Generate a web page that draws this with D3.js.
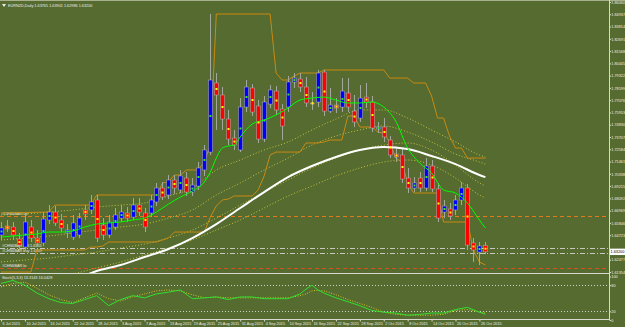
<!DOCTYPE html>
<html>
<head>
<meta charset="utf-8">
<script src="https://cdn.jsdelivr.net/npm/d3@7"></script>
<style>
  body { margin: 0; background: #556b2f; }
  svg { display: block; font-family: "Liberation Sans", Arial, sans-serif; }
</style>
</head>
<body>
<svg id="svgRoot" width="625" height="327"></svg>
<script>
// EURNZD daily, bar 0 = 6 Jul 2015, one bar per trading day
const opens = [
  1.6474,1.6556,1.6547,1.6437,1.6364,1.6547,1.6446,1.6401,1.6611,1.6684,
  1.6611,1.6492,1.6455,1.6474,1.6703,1.6703,1.6794,1.6565,1.6474,1.6547,
  1.6629,1.6675,1.6638,1.6748,1.6675,1.6675,1.6776,1.6904,1.6840,1.6977,
  1.6886,1.6995,1.6867,1.6922,1.7069,1.7233,1.7865,1.7755,1.7535,1.7361,
  1.7252,1.7645,1.7819,1.7654,1.7352,1.7672,1.7791,1.7627,1.7645,1.7874,
  1.7901,1.7828,1.7682,1.7691,1.7965,1.7608,1.7663,1.7645,1.7773,1.7608,
  1.7544,1.7736,1.7691,1.7444,1.7462,1.7343,1.7215,1.7206,1.6995,1.6904,
  1.6995,1.6904,1.7105,1.6895,1.6684,1.6712,1.6703,1.6794,1.6904,1.6401,
  1.6318,1.6377]
const highs = [
  1.6593,1.6611,1.6593,1.6492,1.6657,1.6611,1.6520,1.6684,1.6748,1.6739,
  1.6666,1.6574,1.6657,1.6675,1.6748,1.6840,1.6840,1.6629,1.6657,1.6721,
  1.6748,1.6730,1.6812,1.6812,1.6721,1.6840,1.6950,1.6959,1.7023,1.7023,
  1.7069,1.7050,1.6995,1.7142,1.7297,1.8496,1.7956,1.7828,1.7618,1.7435,
  1.7727,1.7892,1.7855,1.7709,1.7746,1.7846,1.7837,1.7672,1.7929,1.7956,
  1.7956,1.7919,1.7782,1.7984,1.7984,1.7819,1.7727,1.7910,1.7910,1.7755,
  1.7846,1.7865,1.7746,1.7508,1.7544,1.7380,1.7270,1.7270,1.7087,1.7004,
  1.7050,1.7178,1.7160,1.6950,1.6794,1.6767,1.6840,1.6959,1.6940,1.6446,
  1.6410,1.6410]
const lows = [
  1.6428,1.6501,1.6428,1.6337,1.6337,1.6410,1.6364,1.6373,1.6574,1.6556,
  1.6501,1.6446,1.6428,1.6446,1.6611,1.6666,1.6410,1.6428,1.6446,1.6520,
  1.6593,1.6593,1.6611,1.6648,1.6501,1.6638,1.6739,1.6794,1.6803,1.6849,
  1.6858,1.6831,1.6831,1.6886,1.7014,1.7206,1.7435,1.7435,1.7297,1.7252,
  1.7233,1.7599,1.7563,1.7316,1.7325,1.7636,1.7572,1.7343,1.7599,1.7819,
  1.7782,1.7645,1.7618,1.7645,1.7563,1.7590,1.7590,1.7599,1.7599,1.7462,
  1.7508,1.7636,1.7416,1.7407,1.7325,1.7178,1.7142,1.6950,1.6858,1.6867,
  1.6867,1.6876,1.6867,1.6593,1.6629,1.6611,1.6657,1.6748,1.6337,1.6227,
  1.6199,1.6299]
const closes = [
  1.6538,1.6529,1.6474,1.6382,1.6593,1.6446,1.6401,1.6620,1.6684,1.6584,
  1.6538,1.6520,1.6584,1.6629,1.6666,1.6776,1.6446,1.6474,1.6593,1.6657,
  1.6684,1.6629,1.6748,1.6684,1.6547,1.6794,1.6904,1.6821,1.6977,1.6904,
  1.7014,1.6867,1.6931,1.7087,1.7252,1.7892,1.7755,1.7535,1.7352,1.7297,
  1.7645,1.7828,1.7599,1.7352,1.7691,1.7801,1.7618,1.7471,1.7874,1.7910,
  1.7828,1.7682,1.7677,1.7956,1.7608,1.7663,1.7636,1.7791,1.7645,1.7508,
  1.7727,1.7691,1.7453,1.7462,1.7371,1.7206,1.7188,1.6986,1.6904,1.6950,
  1.6904,1.7105,1.6895,1.6629,1.6739,1.6648,1.6794,1.6904,1.6382,1.6337,
  1.6373,1.6320]

const dateTicks = [0,4,8,12,16,20,24,28,32,36,40,44,48,52,56,60,64,68,72,76,80]
const dateLabels = ["6 Jul 2015","10 Jul 2015","16 Jul 2015","22 Jul 2015","28 Jul 2015",
  "3 Aug 2015","7 Aug 2015","13 Aug 2015","19 Aug 2015","25 Aug 2015","31 Aug 2015",
  "4 Sep 2015","10 Sep 2015","16 Sep 2015","22 Sep 2015","28 Sep 2015","2 Oct 2015",
  "8 Oct 2015","14 Oct 2015","20 Oct 2015","26 Oct 2015"]
const priceTicks = [1.86060,1.84937,1.83814,1.82691,1.81568,1.80445,1.79322,1.78199,
  1.77076,1.75953,1.74830,1.73707,1.72584,1.71461,1.70338,1.69215,1.68092,1.66969,
  1.65846,1.64723,1.63600,1.62477,1.61354]
const lastPrice = 1.63200
const stochTicks = [100, 80, 20, 0]

// fast moving average (green)
const fastIdx = [0,2,4,6,8,10,12,14,16,18,20,22,24,26,28,30,32,34,35,36,37,38,39,
  40,42,44,46,48,50,52,54,56,58,60,62,64,66,68,70,72,74,76,78,80,81]
const fastMA = [1.6455,1.6465,1.6474,1.6483,1.6501,1.6501,1.6510,1.6547,1.6574,1.6584,
  1.6593,1.6611,1.6629,1.6684,1.6757,1.6821,1.6876,1.6959,1.7050,1.7178,1.7270,1.7288,
  1.7297,1.7371,1.7489,1.7526,1.7572,1.7636,1.7709,1.7727,1.7736,1.7709,1.7682,1.7682,
  1.7691,1.7645,1.7517,1.7270,1.7133,1.7041,1.6886,1.6858,1.6767,1.6611,1.6538]

// slow average (white) and dotted bands, read every 4 bars
const slowIdx = [0,4,8,12,16,20,24,28,32,36,40,44,48,52,56,60,64,68,72,76,80,81]
const slowMA = [1.5952,1.5989,1.6025,1.6062,1.6144,1.6199,1.6272,1.6346,1.6446,1.6574,
  1.6721,1.6867,1.7004,1.7105,1.7188,1.7252,1.7279,1.7261,1.7197,1.7123,1.7023,1.7004]
const band1 = [1.6657,1.6666,1.6684,1.6703,1.6730,1.6748,1.6767,1.6831,1.6904,1.7069,
  1.7160,1.7252,1.7325,1.7435,1.7535,1.7618,1.7618,1.7544,1.7435,1.7325,1.7206,1.7188]
const band2 = [1.6428,1.6446,1.6465,1.6492,1.6520,1.6547,1.6574,1.6629,1.6703,1.6840,
  1.6950,1.7069,1.7178,1.7297,1.7380,1.7435,1.7471,1.7416,1.7325,1.7215,1.7142,1.7123]
const band3 = [1.6227,1.6245,1.6263,1.6291,1.6318,1.6355,1.6391,1.6446,1.6520,1.6629,
  1.6748,1.6867,1.6977,1.7087,1.7178,1.7252,1.7297,1.7316,1.7252,1.7114,1.6950,1.6922]
const band4 = [1.6016,1.6035,1.6071,1.6117,1.6172,1.6227,1.6291,1.6355,1.6428,1.6520,
  1.6611,1.6721,1.6831,1.6922,1.7014,1.7087,1.7142,1.7160,1.7114,1.6995,1.6840,1.6812]

// price channel (orange)
const chanUpIdx = [0,8,9,15,16,26,27,28,29,30,31,33,34,35,36,45,46,47,48,49,
  50,53,54,64,65,68,69,71,72,73,74,75,76,77,78,81]
const chanUp = [1.6675,1.6684,1.6748,1.6748,1.6840,1.6840,1.6950,1.6959,1.7023,1.7023,
  1.7069,1.7069,1.7142,1.7297,1.8496,1.8496,1.7956,1.7892,1.7892,1.7929,1.7956,1.7956,
  1.7984,1.7984,1.7910,1.7910,1.7865,1.7865,1.7746,1.7544,1.7544,1.7380,1.7270,1.7270,
  1.7178,1.7178]
const chanLoIdx = [0,5,6,14,15,16,17,18,26,27,28,29,34,35,36,37,38,39,42,43,
  44,45,46,50,51,53,54,55,57,58,59,60,62,63,64,65,66,67,68,69,73,74,78,79,80,81]
const chanLo = [1.6135,1.6135,1.6337,1.6337,1.6364,1.6364,1.6373,1.6410,1.6410,1.6428,
  1.6446,1.6501,1.6501,1.6638,1.6739,1.6794,1.6803,1.6831,1.6831,1.6886,1.7014,1.7206,
  1.7233,1.7233,1.7316,1.7316,1.7325,1.7343,1.7343,1.7563,1.7563,1.7462,1.7462,1.7416,
  1.7407,1.7325,1.7178,1.7142,1.6950,1.6858,1.6858,1.6593,1.6593,1.6337,1.6227,1.6199]

// horizontal objects
const levels = [1.6648, 1.6355, 1.6309, 1.6172]
const levelNames = ["#CHN6BAR up", "#CHN6BAR sell 1.6355", "#CHN6BAR buy 1.6309", "#CHN6BAR lo"]

// stochastic window
const stochIdx = [0,2,4,6,8,10,12,14,16,18,20,22,24,26,28,30,32,34,36,38,40,42,44,46,48,50,
  51,52,53,54,56,58,60,62,64,66,68,70,72,74,76,78,80,81]
const stochMain = [84,91,80,62,49,40,38,47,56,33,47,56,51,60,64,69,49,51,53,47,53,53,49,49,49,60,
  71,80,69,62,51,42,33,22,18,16,11,13,16,16,24,29,18,13.3143]
const stochSignal = [76,84,87,73,58,47,40,51,62,49,44,53,60,67,69,67,58,51,53,51,51,51,51,51,51,56,
  60,67,68,67,58,47,38,29,18,13,11,11,11,13,22,24,18,16.0428]

const axisX = 609
const mainBottom = 273
const subBottom = 319
const labelFont = "3.8px"

let svg = d3.select("#svgRoot")

let x = d3.scaleLinear().domain([0, 81]).range([1, 485.4])
let y = d3.scaleLinear().domain([1.61354, 1.86060]).range([272, 2])
let ys = d3.scaleLinear().domain([0, 100]).range([320, 276.5])

svg.append("rect").attr("width", 625).attr("height", 327).attr("fill", "#556b2f")

let defs = svg.append("defs")
defs.append("clipPath").attr("id", "clipMain")
  .append("rect").attr("x", 0).attr("y", 0).attr("width", axisX).attr("height", mainBottom)
defs.append("clipPath").attr("id", "clipSub")
  .append("rect").attr("x", 0).attr("y", mainBottom + 1).attr("width", axisX).attr("height", subBottom - mainBottom - 1)

let g_main = svg.append("g").attr("clip-path", "url(#clipMain)")
let g_sub = svg.append("g").attr("clip-path", "url(#clipSub)")
let g_axes = svg.append("g")

function drawLine(g, idx, vals, scale, color, width, dash, curve) {
  let line = d3.line()
    .x((d) => x(d[0]))
    .y((d) => scale(d[1]))
    .curve(curve)
  g.append("path")
    .datum(d3.zip(idx, vals))
    .attr("d", line)
    .attr("fill", "none")
    .attr("stroke", color)
    .attr("stroke-width", width)
    .attr("stroke-dasharray", dash)
}

// horizontal object lines
let levelStyle = [
  { color: "#e07a1c", dash: "4,3" },
  { color: "#c8c8c0", dash: "5,2,1,2" },
  { color: "#c8c8c0", dash: "5,2,1,2" },
  { color: "#d8501c", dash: "4,3" },
]
g_main.selectAll(".level").data(levels).enter()
  .append("line")
  .attr("class", "level")
  .attr("x1", 0).attr("x2", axisX)
  .attr("y1", (d) => Math.round(y(d)) + 0.5)
  .attr("y2", (d) => Math.round(y(d)) + 0.5)
  .attr("stroke", (d, i) => levelStyle[i].color)
  .attr("stroke-dasharray", (d, i) => levelStyle[i].dash)
  .attr("stroke-width", 1)

g_main.selectAll(".levelName").data(levels).enter()
  .append("text")
  .attr("class", "levelName")
  .attr("x", 2)
  .attr("y", (d) => Math.round(y(d)) - 1)
  .text((d, i) => levelNames[i])
  .attr("font-size", labelFont)
  .attr("fill", "#ececec")

// dotted bands
let bands = [band1, band2, band3, band4]
bands.forEach((b) => drawLine(g_main, slowIdx, b, y, "#c4c440", 1, "1,2", d3.curveMonotoneX))

// price channel
drawLine(g_main, chanUpIdx, chanUp, y, "#c98a12", 1, null, d3.curveLinear)
drawLine(g_main, chanLoIdx, chanLo, y, "#c98a12", 1, null, d3.curveLinear)

// candles
let bars = d3.range(opens.length).map((i) => ({ i: i, o: opens[i], h: highs[i], l: lows[i], c: closes[i] }))

g_main.selectAll(".wick").data(bars).enter()
  .append("line")
  .attr("class", "wick")
  .attr("x1", (d) => Math.round(x(d.i)) + 0.5)
  .attr("x2", (d) => Math.round(x(d.i)) + 0.5)
  .attr("y1", (d) => y(d.h))
  .attr("y2", (d) => y(d.l))
  .attr("stroke", "#a4a89c")
  .attr("stroke-width", 1)

g_main.selectAll(".body").data(bars).enter()
  .append("rect")
  .attr("class", "body")
  .attr("x", (d) => Math.round(x(d.i)) - 1.5)
  .attr("y", (d) => y(Math.max(d.o, d.c)))
  .attr("width", 4)
  .attr("height", (d) => Math.max(1, Math.abs(y(d.o) - y(d.c))))
  .attr("fill", (d) => (d.c >= d.o ? "#0000ff" : "#ff0000"))
  .attr("stroke", "#b4b4b4")
  .attr("stroke-width", 0.5)

// moving averages drawn over the bars
drawLine(g_main, slowIdx, slowMA, y, "#ffffff", 2, null, d3.curveMonotoneX)
drawLine(g_main, fastIdx, fastMA, y, "#00ff00", 1, null, d3.curveMonotoneX)

g_main.selectAll(".dot").data(bars).enter()
  .append("rect")
  .attr("class", "dot")
  .attr("x", (d) => Math.round(x(d.i)) - 0.5)
  .attr("y", (d) => y((d.o + d.c) / 2) - 1)
  .attr("width", 2)
  .attr("height", 2)
  .attr("fill", (d) => (d.c >= d.o ? "#40e040" : "#ffff00"))

// stochastic window
g_sub.selectAll(".stochLevel").data([80, 20]).enter()
  .append("line")
  .attr("class", "stochLevel")
  .attr("x1", 0).attr("x2", axisX)
  .attr("y1", (d) => Math.round(ys(d)) + 0.5)
  .attr("y2", (d) => Math.round(ys(d)) + 0.5)
  .attr("stroke", "#d0d0c8")
  .attr("stroke-dasharray", "1,2")

drawLine(g_sub, stochIdx, stochSignal, ys, "#d4c82c", 1, "1,1.5", d3.curveLinear)
drawLine(g_sub, stochIdx, stochMain, ys, "#30e030", 1, null, d3.curveLinear)

g_sub.append("text")
  .attr("x", 2).attr("y", 279)
  .text("Stoch(5,3,3) 13.3143 16.0428")
  .attr("font-size", labelFont)
  .attr("fill", "#ececec")

// frame lines
g_axes.append("line").attr("x1", 0).attr("x2", 625).attr("y1", 0.5).attr("y2", 0.5)
  .attr("stroke", "#a8b08c").attr("stroke-width", 1)
g_axes.append("line").attr("x1", 0).attr("x2", axisX).attr("y1", mainBottom + 0.5).attr("y2", mainBottom + 0.5)
  .attr("stroke", "#d8d8d0").attr("stroke-width", 1.2)
g_axes.append("line").attr("x1", 0).attr("x2", axisX).attr("y1", subBottom + 0.5).attr("y2", subBottom + 0.5)
  .attr("stroke", "#d8d8d0").attr("stroke-width", 1)
g_axes.append("line").attr("x1", axisX + 0.5).attr("x2", axisX + 0.5).attr("y1", 0).attr("y2", subBottom + 1)
  .attr("stroke", "#d8d8d0").attr("stroke-width", 1)

// price axis
let yAxis = d3.axisRight(y)
  .tickValues(priceTicks.filter((t) => Math.abs(y(t) - y(lastPrice)) > 6))
  .tickSize(1.5)
  .tickPadding(0.3)
  .tickFormat(d3.format(".5f"))
let g_yAxis = g_axes.append("g").attr("transform", "translate(" + (axisX + 0.5) + ",0)").call(yAxis)
g_yAxis.select(".domain").remove()
g_yAxis.selectAll("line").attr("stroke", "#d8d8d0")
g_yAxis.selectAll("text").attr("font-size", labelFont).attr("fill", "#ececec").attr("font-family", "Liberation Sans, Arial, sans-serif")

// current price box
g_axes.append("rect")
  .attr("x", axisX + 1).attr("y", y(lastPrice) - 3.2)
  .attr("width", 15).attr("height", 6.4)
  .attr("fill", "#ffffff")
g_axes.append("text")
  .attr("x", axisX + 1.6).attr("y", y(lastPrice) + 1.4)
  .text(d3.format(".5f")(lastPrice))
  .attr("font-size", labelFont)
  .attr("fill", "#000000")

// stochastic axis
let sAxis = d3.axisRight(ys).tickValues(stochTicks).tickSize(1.5).tickPadding(0.3)
let g_sAxis = g_axes.append("g").attr("transform", "translate(" + (axisX + 0.5) + ",0)").call(sAxis)
g_sAxis.select(".domain").remove()
g_sAxis.selectAll("line").attr("stroke", "#d8d8d0")
g_sAxis.selectAll("text").attr("font-size", labelFont).attr("fill", "#ececec").attr("font-family", "Liberation Sans, Arial, sans-serif")

// time axis
let xAxis = d3.axisBottom(x)
  .tickValues(dateTicks)
  .tickSize(2)
  .tickPadding(1)
  .tickFormat((d, i) => dateLabels[i])
let g_xAxis = g_axes.append("g").attr("transform", "translate(0," + (subBottom + 0.5) + ")").call(xAxis)
g_xAxis.select(".domain").remove()
g_xAxis.selectAll("line").attr("stroke", "#d8d8d0")
g_xAxis.selectAll("text")
  .attr("font-size", labelFont)
  .attr("fill", "#ececec")
  .attr("text-anchor", "start")
  .attr("x", 1)
  .attr("font-family", "Liberation Sans, Arial, sans-serif")

// title
g_axes.append("path").attr("d", "M2,4 L6,4 L4,7 Z").attr("fill", "#ececec")
g_axes.append("text")
  .attr("x", 8).attr("y", 7)
  .text("EURNZD,Daily  1.63765 1.63901 1.62986 1.63200")
  .attr("font-size", labelFont)
  .attr("fill", "#ececec")
</script>
</body>
</html>
